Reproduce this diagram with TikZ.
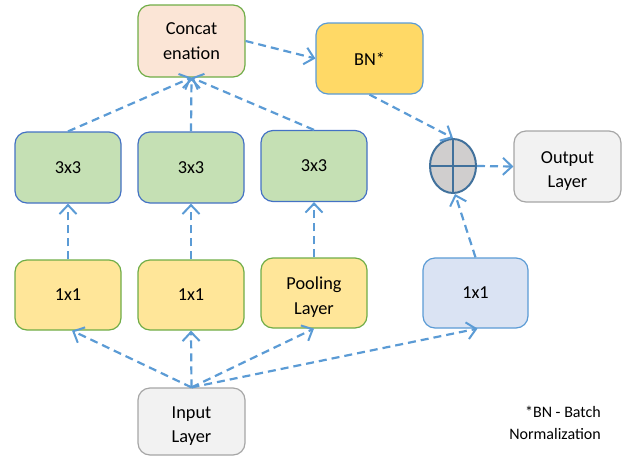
\documentclass[tikz,border=0pt]{standalone}
\usepackage{fontspec}
\setmainfont{Carlito}
\usetikzlibrary{arrows.meta,shapes.geometric,calc}
\definecolor{arrowblue}{HTML}{5B9BD5}
\definecolor{grnborder}{HTML}{70AD47}
\definecolor{concatfill}{HTML}{FBE5D6}
\definecolor{bnfill}{HTML}{FFD966}
\definecolor{convfill}{HTML}{C5E0B4}
\definecolor{convborder}{HTML}{4472C4}
\definecolor{yelfill}{HTML}{FFE699}
\definecolor{bluefill}{HTML}{DAE3F3}
\definecolor{grayfill}{HTML}{F2F2F2}
\definecolor{grayborder}{HTML}{A6A6A6}
\definecolor{plusborder}{HTML}{41719C}
\definecolor{plusfill}{HTML}{D0CECE}
\newcommand{\lowerstrut}{\rule{0pt}{21pt}}
\begin{document}
\begin{tikzpicture}[x=1pt,y=-1pt,
  box/.style={draw, rounded corners=12pt, line width=1.2pt, minimum width=106pt,
    minimum height=71pt, align=center, inner sep=0pt,
    font=\fontsize{18.3}{24.5}\selectfont, text=black},
  concatbox/.style={box, draw=grnborder, fill=concatfill},
  bnbox/.style={box, draw=arrowblue, fill=bnfill},
  convbox/.style={box, draw=convborder, fill=convfill},
  yelbox/.style={box, draw=grnborder, fill=yelfill},
  bluebox/.style={box, draw=arrowblue, fill=bluefill},
  graybox/.style={box, draw=grayborder, fill=grayfill},
  arr/.style={draw=arrowblue, line width=2.2pt, dash pattern=on 8pt off 5pt,
    -{Straight Barb[length=9pt,width=17pt,line width=2pt]}}]
\useasboundingbox (0,0) rectangle (635,456);

\node[concatbox, minimum width=107pt, minimum height=72pt] (concat) at (191.5,41) {Concat\\enation};
\node[bnbox, minimum width=107pt] (bn) at (369.5,58.5) {BN*};

\node[convbox] (t1) at (68,167.5) {3x3};
\node[convbox] (t2) at (191,167.5) {3x3};
\node[convbox] (t3) at (314,166) {3x3};

\node[yelbox, minimum height=70pt] (o1) at (68,295) {1x1};
\node[yelbox, minimum height=70pt] (o2) at (191,295) {1x1};
\node[yelbox, minimum height=70pt] (pool) at (314,293) {\lowerstrut Pooling\\Layer};
\node[bluebox, minimum width=105pt, minimum height=70pt] (r1) at (475.5,293) {1x1};

\node[graybox, minimum width=107pt, minimum height=67pt] (input) at (191.5,421.5) {\lowerstrut Input\\Layer};

\node[ellipse, draw=plusborder, fill=plusfill, line width=2pt, minimum width=46pt,
  minimum height=54pt, inner sep=0pt] (plus) at (453,166) {};
\draw[plusborder, line width=2pt] (plus.north) -- (plus.south) (plus.west) -- (plus.east);

\node[graybox, minimum width=107pt] (output) at (567.5,166.5) {\lowerstrut Output\\Layer};

\node[align=right, anchor=north east, inner sep=0pt, font=\fontsize{16}{22}\selectfont]
  (note) at (601,406) {*BN - Batch\\Normalization};

\draw[arr] (input.north) -- ($(o1.south)+(4,0)$);
\draw[arr] (input.north) -- (o2.south);
\draw[arr] (input.north) -- (pool.south);
\draw[arr] (input.north) -- ($(r1.south)+(2,0)$);

\draw[arr] (o1.north) -- (t1.south);
\draw[arr] (o2.north) -- (t2.south);
\draw[arr] (pool.north) -- (t3.south);

\draw[arr] (t1.north) -- (concat.south);
\draw[arr] (t2.north) -- (concat.south);
\draw[arr] (t3.north) -- (concat.south);

\draw[arr] (concat.east) -- (bn.west);
\draw[arr] (bn.south) -- (plus.north);
\draw[arr] (r1.north) -- ($(plus.south)+(2,0)$);
\draw[arr] (plus.east) -- (output.west);
\end{tikzpicture}
\end{document}
